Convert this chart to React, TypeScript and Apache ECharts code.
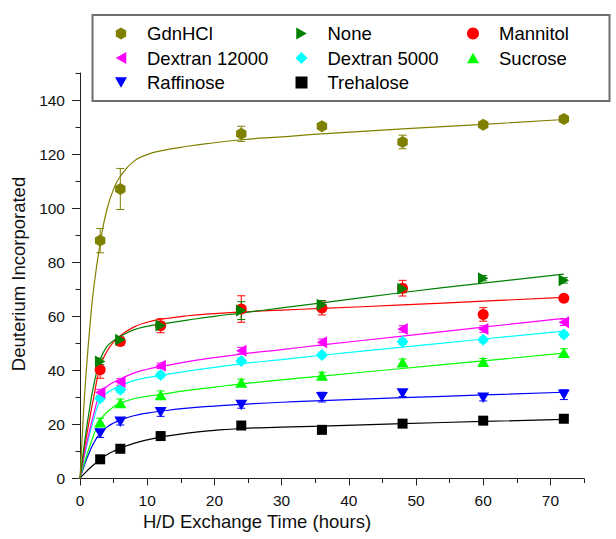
import React, { useEffect, useRef } from "react";
import * as echarts from "echarts";

// ---------- data ----------
const TIMES = [3, 6, 12, 24, 36, 48, 60, 72];
const FIT_TIMES = [0, 0.5, 1, 1.5, 2, 3, 4, 5, 6, 8, 10, 12, 16, 20, 24, 30, 36, 48, 60, 72];
const X_TICKS = [0, 10, 20, 30, 40, 50, 60, 70];
const Y_TICKS = [0, 20, 40, 60, 80, 100, 120, 140];

const GDNHCL = [88.0, 107.1, null, 127.5, 130.3, 124.5, 130.9, 133.0];
const GDNHCL_ERR = [4.5, 7.6, 0, 2.8, 0.8, 2.5, 1.0, 1.2];
const GDNHCL_FIT = [0, 23.5, 42, 57, 69.5, 87, 99.5, 107, 111.8, 117.3, 119.8, 121.2, 122.9, 124.2, 125.3, 126.4, 127.5, 129.3, 131.0, 132.8];

const NONE = [43.3, 51.3, 56.6, 62.1, 64.3, 70.2, 74.1, 73.3];
const NONE_ERR = [1.2, 1.0, 1.5, 3.3, 1.5, 1.5, 1.0, 1.0];
const NONE_FIT = [0, 10, 19, 27, 34, 44, 48.8, 51, 52.6, 55, 56.3, 57.1, 58.6, 60.0, 61.2, 63.1, 65.0, 68.8, 72.3, 75.6];

const MANNITOL = [40.2, 50.7, 56.5, 62.7, 63.1, 70.4, 60.7, 66.7];
const MANNITOL_ERR = [3.1, 1.5, 2.6, 4.9, 2.6, 2.9, 2.5, 0.5];
const MANNITOL_FIT = [0, 8.5, 16, 23, 29.5, 41.5, 47, 50.5, 52.8, 56.0, 57.8, 58.9, 60.2, 61.0, 61.6, 62.3, 62.9, 64.2, 65.6, 67.0];

const DEXTRAN_12000 = [31.8, 35.7, 41.7, 47.3, 50.4, 55.3, 55.3, 57.8];
const DEXTRAN_12000_ERR = [1.2, 1.2, 1.0, 1.2, 1.2, 1.2, 1.2, 1.2];
const DEXTRAN_12000_FIT = [0, 7, 13, 18.5, 23.5, 31.5, 34, 35.6, 36.8, 39.0, 40.4, 41.4, 43.2, 44.7, 46.0, 47.7, 49.4, 52.7, 56.0, 59.2];

const DEXTRAN_5000 = [29.7, 32.8, 38.3, 43.5, 45.7, 50.6, 51.3, 53.3];
const DEXTRAN_5000_ERR = [1.0, 1.0, 1.0, 1.0, 1.0, 1.0, 1.0, 1.0];
const DEXTRAN_5000_FIT = [0, 6.5, 12, 17, 21.5, 29, 31.6, 33.2, 34.4, 36.2, 37.3, 38.1, 39.7, 41.1, 42.4, 44.0, 45.6, 48.6, 51.6, 54.5];

const SUCROSE = [20.8, 27.9, 30.9, 35.5, 38.1, 43.0, 43.2, 46.5];
const SUCROSE_ERR = [1.5, 1.5, 1.5, 1.2, 1.2, 1.2, 1.2, 1.5];
const SUCROSE_FIT = [0, 4.5, 8.5, 12.3, 15.8, 21.5, 24.5, 26.5, 27.8, 29.5, 30.4, 31.1, 32.6, 33.8, 35.0, 36.5, 37.9, 40.7, 43.5, 46.4];

const RAFFINOSE = [16.7, 21.0, 24.5, 27.2, 30.1, 31.5, 29.9, 31.0];
const RAFFINOSE_ERR = [1.5, 1.2, 1.5, 1.2, 1.8, 1.2, 1.2, 1.8];
const RAFFINOSE_FIT = [0, 3.8, 7.3, 10.3, 12.9, 16.8, 19.0, 20.5, 21.6, 23.2, 24.2, 24.9, 26.0, 26.8, 27.4, 28.2, 28.8, 29.9, 30.9, 31.9];

const TREHALOSE = [7.1, 11.0, 15.7, 19.6, 18.0, 20.3, 21.4, 22.1];
const TREHALOSE_ERR = [0.6, 0.6, 0.6, 0.6, 0.6, 0.6, 0.6, 0.6];
const TREHALOSE_FIT = [0, 1.4, 2.7, 3.9, 5.0, 7.1, 8.8, 10.1, 11.2, 13.0, 14.3, 15.3, 16.8, 17.8, 18.5, 19.0, 19.4, 20.3, 21.1, 21.9];

const LEGEND_COLUMNS = [
  ["GdnHCl", "Dextran 12000", "Raffinose"],
  ["None", "Dextran 5000", "Trehalose"],
  ["Mannitol", "Sucrose"],
];

// ---------- styles ----------
const FONT = "'Liberation Sans', Arial, Helvetica, sans-serif";
const HEX = "path://M0,-1L0.866,-0.5L0.866,0.5L0,1L-0.866,0.5L-0.866,-0.5Z";
const TRI_UP = "path://M5,0L10,8.7L0,8.7Z";
const TRI_DOWN = "path://M0,0L10,0L5,8.7Z";
const TRI_RIGHT = "path://M0,0L8.7,5L0,10Z";
const TRI_LEFT = "path://M8.7,0L0,5L8.7,10Z";

// drawing order: bottom to top
const SERIES_DEFS = [
  { name: "Trehalose", values: TREHALOSE, errors: TREHALOSE_ERR, fit: TREHALOSE_FIT, color: "#000000", symbol: "rect", size: 10 },
  { name: "Raffinose", values: RAFFINOSE, errors: RAFFINOSE_ERR, fit: RAFFINOSE_FIT, color: "#0000ff", symbol: TRI_DOWN, size: 12 },
  { name: "Sucrose", values: SUCROSE, errors: SUCROSE_ERR, fit: SUCROSE_FIT, color: "#00ff00", symbol: TRI_UP, size: 12 },
  { name: "Dextran 5000", values: DEXTRAN_5000, errors: DEXTRAN_5000_ERR, fit: DEXTRAN_5000_FIT, color: "#00ffff", symbol: "diamond", size: 12 },
  { name: "Dextran 12000", values: DEXTRAN_12000, errors: DEXTRAN_12000_ERR, fit: DEXTRAN_12000_FIT, color: "#ff00ff", symbol: TRI_LEFT, size: 12 },
  { name: "Mannitol", values: MANNITOL, errors: MANNITOL_ERR, fit: MANNITOL_FIT, color: "#ff0000", symbol: "circle", size: 11 },
  { name: "None", values: NONE, errors: NONE_ERR, fit: NONE_FIT, color: "#008000", symbol: TRI_RIGHT, size: 12 },
  { name: "GdnHCl", values: GDNHCL, errors: GDNHCL_ERR, fit: GDNHCL_FIT, color: "#808000", symbol: HEX, size: 12 },
];

function buildOption() {
  const fitSeries = SERIES_DEFS.map((d) => ({
    name: d.name + " fit",
    type: "line",
    data: FIT_TIMES.map((t, i) => [t, d.fit[i]]),
    showSymbol: false,
    smooth: 0.5,
    lineStyle: { color: d.color, width: 1.2 },
    itemStyle: { color: d.color },
    z: 2,
    silent: true,
  }));

  const errSeries = SERIES_DEFS.map((d) => ({
    name: d.name + " error",
    type: "custom",
    data: TIMES.map((t, i) => [t, d.values[i], d.errors[i]]).filter((p) => p[1] != null && p[2] > 0),
    encode: { x: 0, y: 1 },
    z: 3,
    silent: true,
    renderItem: (params: any, api: any) => {
      const x = api.value(0);
      const y = api.value(1);
      const e = api.value(2);
      const top = api.coord([x, y + e]);
      const bot = api.coord([x, y - e]);
      const cap = 4;
      const style = { stroke: d.color, lineWidth: 1 };
      return {
        type: "group",
        children: [
          { type: "line", shape: { x1: top[0], y1: top[1], x2: bot[0], y2: bot[1] }, style },
          { type: "line", shape: { x1: top[0] - cap, y1: top[1], x2: top[0] + cap, y2: top[1] }, style },
          { type: "line", shape: { x1: bot[0] - cap, y1: bot[1], x2: bot[0] + cap, y2: bot[1] }, style },
        ],
      };
    },
  }));

  const pointSeries = SERIES_DEFS.map((d) => ({
    name: d.name,
    type: "scatter",
    data: TIMES.map((t, i) => [t, d.values[i]]).filter((p) => p[1] != null),
    symbol: d.symbol,
    symbolSize: d.size,
    symbolKeepAspect: true,
    itemStyle: { color: d.color, opacity: 1 },
    z: 4,
  }));

  const legendBase = {
    orient: "vertical",
    top: 24,
    itemWidth: 12,
    itemHeight: 12,
    itemGap: 5.5,
    padding: 0,
    selectedMode: false,
    symbolKeepAspect: true,
    z: 6,
    textStyle: { fontSize: 18.5, fontFamily: FONT, color: "#000", padding: [0, 0, 0, 15] },
  };

  const legendData = (names: string[]) =>
    names.map((n) => {
      const d = SERIES_DEFS.find((s) => s.name === n)!;
      return { name: n, icon: d.symbol };
    });

  const axisLineStyle = { color: "#222", width: 1 };

  return {
    animation: false,
    backgroundColor: "#ffffff",
    grid: { left: 80, right: 32, top: 73, bottom: 60.5 },
    legend: [
      { ...legendBase, data: legendData(LEGEND_COLUMNS[0]), left: 115 },
      { ...legendBase, data: legendData(LEGEND_COLUMNS[1]), left: 295.5 },
      { ...legendBase, data: legendData(LEGEND_COLUMNS[2]), left: 467 },
    ],
    xAxis: [
      {
        type: "value",
        min: 0,
        max: 75,
        interval: 10,
        axisLine: { show: true, onZero: false, lineStyle: axisLineStyle },
        axisTick: { show: true, length: 7, customValues: X_TICKS, lineStyle: axisLineStyle },
        axisLabel: {
          customValues: X_TICKS,
          margin: 14,
          fontSize: 15.5,
          fontFamily: FONT,
          color: "#111",
        },
        splitLine: { show: false },
      },
      {
        type: "value",
        min: 0,
        max: 75,
        interval: 5,
        position: "bottom",
        axisLine: { show: false },
        axisTick: { show: true, length: 4.5, lineStyle: axisLineStyle },
        axisLabel: { show: false },
        splitLine: { show: false },
      },
    ],
    yAxis: [
      {
        type: "value",
        min: 0,
        max: 150,
        interval: 20,
        axisLine: { show: true, onZero: false, lineStyle: axisLineStyle },
        axisTick: { show: true, length: 8, customValues: Y_TICKS, lineStyle: axisLineStyle },
        axisLabel: {
          customValues: Y_TICKS,
          margin: 15,
          fontSize: 15.5,
          fontFamily: FONT,
          color: "#111",
        },
        splitLine: { show: false },
      },
      {
        type: "value",
        min: 0,
        max: 150,
        interval: 10,
        position: "left",
        axisLine: { show: false },
        axisTick: { show: true, length: 4.5, lineStyle: axisLineStyle },
        axisLabel: { show: false },
        splitLine: { show: false },
      },
    ],
    graphic: [
      {
        type: "rect",
        z: 5,
        shape: { x: 92.5, y: 15, width: 517, height: 86 },
        style: { fill: "#ffffff", stroke: "#6e6e6e", lineWidth: 2 },
      },
      {
        type: "text",
        x: 257,
        y: 521,
        z: 5,
        style: {
          text: "H/D Exchange Time (hours)",
          fontSize: 18.5,
          fontFamily: FONT,
          fill: "#111",
          align: "center",
          verticalAlign: "middle",
        },
      },
      {
        type: "text",
        x: 18.5,
        y: 274,
        rotation: Math.PI / 2,
        z: 5,
        style: {
          text: "Deuterium Incorporated",
          fontSize: 18.5,
          fontFamily: FONT,
          fill: "#111",
          align: "center",
          verticalAlign: "middle",
        },
      },
    ],
    series: [...fitSeries, ...errSeries, ...pointSeries],
  };
}

export default function App() {
  const ref = useRef<HTMLDivElement | null>(null);
  useEffect(() => {
    if (!ref.current) return;
    const chart = echarts.init(ref.current, null, { renderer: "svg" });
    chart.setOption(buildOption() as any);
    return () => chart.dispose();
  }, []);
  return (
    <div
      ref={ref}
      style={{ position: "fixed", left: 0, top: 0, width: 616, height: 539, background: "#fff" }}
    />
  );
}
